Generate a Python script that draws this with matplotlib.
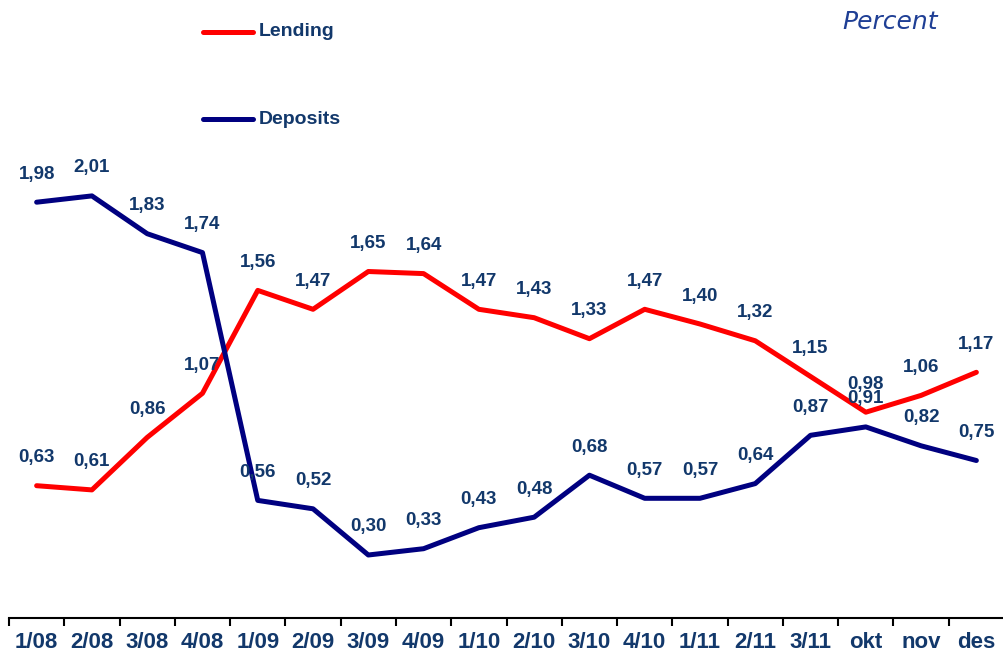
import matplotlib
matplotlib.use("Agg")
import matplotlib.pyplot as plt
from matplotlib.lines import Line2D

categories = ["1/08", "2/08", "3/08", "4/08", "1/09", "2/09", "3/09", "4/09",
              "1/10", "2/10", "3/10", "4/10", "1/11", "2/11", "3/11", "okt", "nov", "des"]
lending = [0.63, 0.61, 0.86, 1.07, 1.56, 1.47, 1.65, 1.64, 1.47, 1.43, 1.33,
           1.47, 1.40, 1.32, 1.15, 0.98, 1.06, 1.17]
deposits = [1.98, 2.01, 1.83, 1.74, 0.56, 0.52, 0.30, 0.33, 0.43, 0.48, 0.68,
            0.57, 0.57, 0.64, 0.87, 0.91, 0.82, 0.75]

RED = "#ff0000"
NAVY = "#000080"
TXT = "#12386b"

W, H = 1004, 659
fig = plt.figure(figsize=(W / 100, H / 100), dpi=100)
ax = fig.add_axes([9 / W, (H - 618) / H, (W - 9) / W, 618 / H])

x = list(range(len(categories)))
ax.plot(x, lending, color=RED, lw=3.6, solid_capstyle="round", solid_joinstyle="round", zorder=2)
ax.plot(x, deposits, color=NAVY, lw=3.6, solid_capstyle="round", solid_joinstyle="round", zorder=3)

def fmt(v):
    return f"{v:.2f}".replace(".", ",")

for series in (lending, deposits):
    for xi, v in zip(x, series):
        ax.annotate(fmt(v), (xi, v), xytext=(0, 28), textcoords="offset pixels",
                    ha="center", va="center", color=TXT, fontsize=13.5,
                    fontweight="bold", family="Liberation Sans", zorder=5)

ax.set_xlim(-0.5, len(categories) - 0.5)
ax.set_ylim(0, 618 / 210)
ax.set_yticks([])
for s in ("left", "right", "top"):
    ax.spines[s].set_visible(False)
ax.spines["bottom"].set_linewidth(1.5)
ax.spines["bottom"].set_color("black")

ax.set_xticks(x)
ax.set_xticklabels(categories, fontsize=16, fontweight="bold", color=TXT, family="Liberation Sans")
ax.tick_params(axis="x", which="major", length=0, pad=10)
ax.set_xticks([i - 0.5 for i in x], minor=True)
ax.tick_params(axis="x", which="minor", length=5.5, width=1.5, color="black", direction="out")

# legend
for yy, lbl, col in ((32, "Lending", RED), (119, "Deposits", NAVY)):
    fy = 1 - yy / H
    fig.add_artist(Line2D([203 / W, 253 / W], [fy, fy], color=col, lw=3.6,
                          solid_capstyle="round", transform=fig.transFigure))
    fig.text(259 / W, fy, lbl, ha="left", va="center", fontsize=14, fontweight="bold",
             color=TXT, family="Liberation Sans")

fig.text(890 / W, 1 - 22 / H, "Percent", ha="center", va="center", fontsize=18,
         style="italic", color="#1f3f95", family="DejaVu Sans")

fig.savefig("out.png", dpi=100)
